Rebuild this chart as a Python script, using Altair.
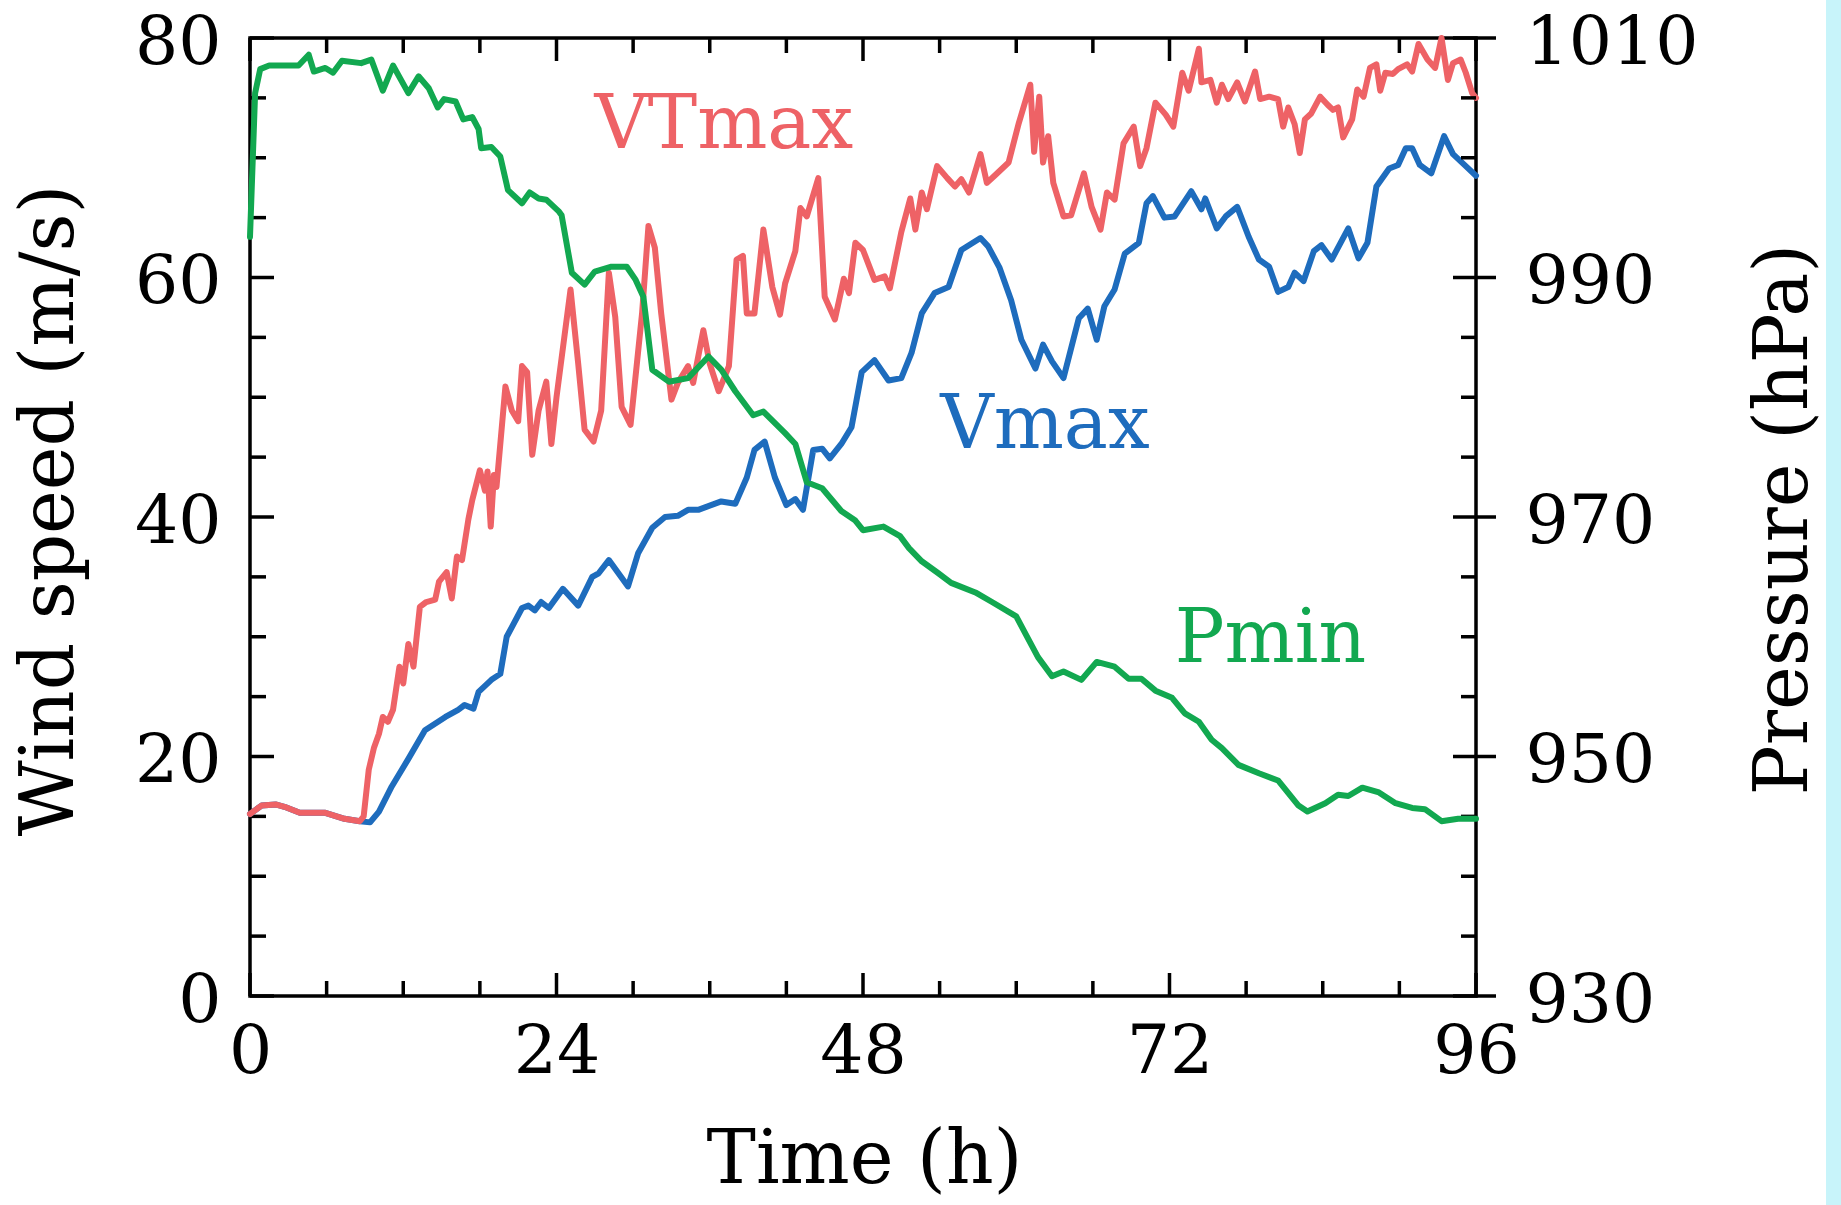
import altair as alt
import pandas as pd

# ---------------- data ----------------
time_ticks = [0, 24, 48, 72, 96]
time_minor = [6, 12, 18, 30, 36, 42, 54, 60, 66, 78, 84, 90]
wind_ticks = [0, 20, 40, 60, 80]
wind_minor = [5, 10, 15, 25, 30, 35, 45, 50, 55, 65, 70, 75]
pres_ticks = [930, 950, 970, 990, 1010]
pres_minor = [935, 940, 945, 955, 960, 965, 975, 980, 985, 995, 1000, 1005]

vmax_t = [0, 0.9, 2.0, 2.7, 3.9, 5.9, 7.4, 8.6, 9.4, 10.1,
          11.1, 12.4, 13.7, 15.3, 16.3, 16.8, 17.5, 17.9, 18.9, 19.6,
          20.1, 21.3, 21.8, 22.3, 22.8, 23.4, 24.5, 25.7, 26.8, 27.3,
          28.1, 29.6, 30.4, 31.5, 32.5, 33.5, 34.3, 35.1, 36.9, 38.0,
          38.9, 39.5, 40.3, 41.1, 42.0, 42.7, 43.3, 44.1, 44.8, 45.4,
          46.3, 47.1, 47.9, 48.9, 50.0, 51.0, 51.8, 52.6, 53.6, 54.7,
          55.7, 57.2, 57.8, 58.7, 59.6, 60.4, 61.5, 62.1, 62.8, 63.7,
          64.9, 65.6, 66.3, 66.9, 67.7, 68.5, 69.6, 70.2, 70.7, 71.6,
          72.4, 73.7, 74.5, 74.8, 75.7, 76.4, 77.3, 78.2, 79.0, 79.8,
          80.5, 81.3, 81.8, 82.5, 83.3, 83.9, 84.7, 86.0, 86.8, 87.5,
          88.2, 89.2, 89.9, 90.5, 91.0, 91.6, 92.5, 93.5, 94.2, 95.2, 96.0]
vmax_v = [15.2, 15.9, 16.0, 15.8, 15.3, 15.3, 14.8, 14.6, 14.5, 15.4,
          17.5, 19.8, 22.2, 23.3, 23.9, 24.3, 24.0, 25.4, 26.4, 26.9,
          30.0, 32.4, 32.6, 32.2, 32.9, 32.4, 34.0, 32.6, 35.0, 35.3,
          36.4, 34.2, 37.0, 39.1, 40.0, 40.1, 40.6, 40.6, 41.3, 41.1,
          43.3, 45.6, 46.3, 43.3, 41.0, 41.5, 40.6, 45.6, 45.7, 44.9,
          46.1, 47.5, 52.1, 53.1, 51.4, 51.6, 53.7, 57.0, 58.7, 59.2,
          62.3, 63.3, 62.6, 60.8, 58.1, 54.8, 52.4, 54.4, 53.0, 51.6,
          56.6, 57.4, 54.8, 57.6, 59.0, 62.0, 62.9, 66.2, 66.8, 65.0,
          65.1, 67.2, 65.7, 66.6, 64.1, 65.1, 65.9, 63.4, 61.5, 60.9,
          58.8, 59.2, 60.4, 59.7, 62.2, 62.7, 61.5, 64.1, 61.6, 62.9,
          67.6, 69.1, 69.4, 70.8, 70.8, 69.4, 68.7, 71.8, 70.3, 69.3, 68.5]

vtmax_t = [0, 0.9, 2.0, 2.7, 3.9, 5.9, 7.4, 8.6, 8.9, 9.3,
           9.7, 10.1, 10.4, 10.8, 11.2, 11.7, 12.0, 12.4, 12.8, 13.3,
           13.8, 14.5, 14.8, 15.4, 15.8, 16.2, 16.6, 17.1, 17.4, 18.0,
           18.4, 18.6, 18.85, 19.1, 19.3, 20.0, 20.5, 21.0, 21.3, 21.7,
           22.1, 22.6, 23.2, 23.6, 24.0, 25.1, 25.7, 26.2, 26.9, 27.5,
           28.1, 28.6, 29.1, 29.8, 30.7, 31.2, 31.7, 32.2, 33.0, 33.5,
           34.3, 34.7, 35.5, 36.0, 36.7, 37.5, 38.1, 38.6, 38.9, 39.5,
           40.2, 40.9, 41.5, 41.9, 42.7, 43.1, 43.6, 44.5, 45.0, 45.8,
           46.5, 46.9, 47.4, 48.0, 48.9, 49.7, 50.1, 51.0, 51.7, 52.1,
           52.6, 53.0, 53.8, 54.6, 55.2, 55.7, 56.3, 57.2, 57.7, 58.3,
           59.4, 60.2, 61.1, 61.4, 61.8, 62.1, 62.5, 62.9, 63.7, 64.3,
           65.3, 65.9, 66.6, 67.1, 67.7, 68.4, 69.2, 69.7, 70.2, 70.9,
           71.7, 72.3, 73.0, 73.5, 74.3, 74.5, 75.2, 75.7, 76.1, 76.6,
           77.3, 77.9, 78.7, 79.1, 79.8, 80.5, 80.9, 81.3, 81.8, 82.2,
           82.6, 83.1, 83.8, 84.4, 84.8, 85.2, 85.6, 86.3, 86.7, 87.2,
           87.7, 88.2, 88.5, 88.9, 89.5, 89.9, 90.6, 91.0, 91.5, 92.2,
           92.8, 93.3, 93.8, 94.2, 94.8, 95.2, 95.7, 96.0]
vtmax_v = [15.2, 15.9, 16.0, 15.8, 15.3, 15.3, 14.8, 14.6, 15.0, 18.9,
           20.7, 21.9, 23.3, 22.9, 23.9, 27.5, 26.1, 29.4, 27.5, 32.5,
           32.9, 33.1, 34.6, 35.4, 33.2, 36.7, 36.4, 39.8, 41.4, 43.9,
           42.2, 43.8, 39.2, 43.5, 42.5, 50.9, 48.9, 48.0, 52.6, 52.1,
           45.2, 48.9, 51.3, 46.1, 50.0, 59.0, 52.8, 47.3, 46.3, 48.9,
           60.4, 56.7, 49.2, 47.7, 57.0, 64.3, 62.5, 57.0, 49.8, 51.2,
           52.6, 51.2, 55.6, 52.8, 50.5, 52.6, 61.5, 61.8, 57.0, 57.0,
           64.0, 59.2, 56.9, 59.5, 62.2, 65.8, 65.1, 68.3, 58.4, 56.5,
           59.9, 58.7, 62.9, 62.3, 59.8, 60.1, 59.1, 63.8, 66.6, 64.0,
           67.1, 65.7, 69.3, 68.3, 67.6, 68.2, 67.1, 70.3, 67.9, 68.5,
           69.6, 72.9, 76.1, 70.5, 75.1, 69.6, 71.8, 67.9, 65.1, 65.2,
           68.7, 65.9, 64.0, 67.1, 66.5, 71.2, 72.6, 69.3, 70.8, 74.6,
           73.6, 72.6, 77.1, 75.6, 79.1, 76.3, 76.5, 74.6, 76.1, 74.9,
           76.3, 74.7, 77.2, 74.9, 75.1, 74.9, 72.6, 74.2, 72.8, 70.4,
           73.2, 73.7, 75.1, 74.4, 74.0, 74.2, 71.7, 73.2, 75.7, 75.1,
           77.5, 77.8, 75.6, 77.1, 77.0, 77.4, 77.8, 77.2, 79.5, 78.2,
           77.5, 80.0, 76.5, 77.9, 78.2, 77.1, 75.4, 75.0]

pmin_t = [0, 0.4, 0.8, 1.5, 3.8, 4.6, 5.0, 5.9, 6.5, 7.2,
          8.7, 9.5, 10.4, 11.2, 12.4, 13.2, 14.0, 14.7, 15.2, 16.1,
          16.7, 17.4, 17.9, 18.1, 18.9, 19.6, 20.2, 21.3, 21.9, 22.6,
          23.2, 24.2, 24.4, 25.2, 26.2, 27.0, 28.3, 29.5, 30.2, 30.8,
          31.5, 32.8, 34.3, 35.9, 36.9, 38.0, 39.4, 40.2, 41.9, 42.7,
          43.6, 44.8, 46.3, 47.4, 48.0, 49.6, 50.9, 51.6, 52.6, 53.9,
          54.9, 56.8, 58.1, 60.0, 60.8, 61.7, 62.8, 63.7, 65.1, 66.3,
          67.7, 68.8, 69.8, 70.9, 72.2, 73.2, 74.3, 75.3, 76.1, 77.4,
          79.0, 80.5, 82.1, 82.8, 84.2, 85.2, 86.0, 87.1, 88.4, 89.7,
          91.0, 92.0, 93.3, 94.6, 96.0]
pmin_p = [993.4, 1005.4, 1007.4, 1007.7, 1007.7, 1008.6, 1007.2, 1007.5, 1007.1, 1008.1,
          1007.9, 1008.2, 1005.6, 1007.7, 1005.4, 1006.8, 1005.8, 1004.2, 1004.9, 1004.7,
          1003.2, 1003.4, 1002.4, 1000.8, 1000.9, 1000.1, 997.3, 996.2, 997.1, 996.6,
          996.5, 995.5, 995.2, 990.4, 989.4, 990.5, 990.9, 990.9, 989.8, 988.4,
          982.3, 981.3, 981.6, 983.4, 982.3, 980.5, 978.5, 978.8, 977.0, 976.1,
          972.9, 972.4, 970.5, 969.7, 968.9, 969.2, 968.4, 967.4, 966.3, 965.3,
          964.5, 963.7, 962.9, 961.7, 960.1, 958.3, 956.7, 957.1, 956.4, 957.9,
          957.5, 956.5, 956.5, 955.5, 954.9, 953.6, 952.9, 951.4, 950.7, 949.3,
          948.6, 948.0, 945.9, 945.4, 946.1, 946.8, 946.7, 947.4, 947.0, 946.1,
          945.7, 945.6, 944.6, 944.8, 944.8]

label_text = ["VTmax", "Vmax", "Pmin"]
label_t = [37.1, 62.25, 79.9]
label_v = [70.8, 45.8, 27.9]

# ---------------- styling ----------------
FONT = "DejaVu Serif"
W, H = 1226, 958
RED, BLUE, GREEN = "#EE6266", "#1E6CBD", "#12A850"
label_color = [RED, BLUE, GREEN]
LW = 6
AW = 3.5

sx = alt.Scale(domain=[0, 96], nice=False, zero=False)
sw = alt.Scale(domain=[0, 80], nice=False, zero=False)
sp = alt.Scale(domain=[930, 1010], nice=False, zero=False)

common = dict(labelFont=FONT, labelColor="black", ticks=False, tickSize=0,
              domain=False, grid=False, labelOverlap=False, labelFlush=False,
              labelLimit=500, format="d",
              titleFont=FONT, titleFontWeight="normal", titleColor="black",
              titleLimit=2000)

x_axis = alt.Axis(values=time_ticks, title="Time (h)", orient="bottom",
                  labelFontSize=68, labelPadding=22, labelBaseline="top",
                  titleFontSize=74, titleX=614, titleY=186,
                  titleAlign="center", titleBaseline="alphabetic", **common)
left_axis = alt.Axis(values=wind_ticks, title="Wind speed (m/s)", orient="left",
                     labelFontSize=68, labelPadding=29, labelAlign="right",
                     labelBaseline="middle", labelOffset=5,
                     titleFontSize=74, titleAngle=270, titleX=-178, titleY=472,
                     titleAlign="center", titleBaseline="alphabetic", **common)
right_axis = alt.Axis(values=pres_ticks, title="Pressure (hPa)", orient="right",
                      labelFontSize=68, labelPadding=49, labelAlign="left",
                      labelBaseline="middle", labelOffset=5,
                      titleFontSize=74, titleAngle=270, titleX=330, titleY=481,
                      titleAlign="center", titleBaseline="alphabetic", **common)

X = alt.X("t:Q", scale=sx, axis=x_axis)
YW = alt.Y("v:Q", scale=sw, axis=left_axis)
YP = alt.Y("p:Q", scale=sp, axis=right_axis)

vmax_df = pd.DataFrame({"t": vmax_t, "v": vmax_v})
vtmax_df = pd.DataFrame({"t": vtmax_t, "v": vtmax_v})
pmin_df = pd.DataFrame({"t": pmin_t, "p": pmin_p})
lab_df = pd.DataFrame({"t": label_t, "v": label_v, "label": label_text, "color": label_color})

rule = dict(color="black", strokeWidth=AW)

strip = alt.Chart(pd.DataFrame({"a": [0]})).mark_rect(color="#C8F4FA").encode(
    x=alt.value(1576), x2=alt.value(1591), y=alt.value(-38), y2=alt.value(1167))

lt_major = alt.Chart(pd.DataFrame({"v": wind_ticks})).mark_rule(**rule).encode(
    y=YW, x=alt.value(0), x2=alt.value(24))
lt_minor = alt.Chart(pd.DataFrame({"v": wind_minor})).mark_rule(**rule).encode(
    y=YW, x=alt.value(0), x2=alt.value(16))
bt_major = alt.Chart(pd.DataFrame({"t": time_ticks})).mark_rule(**rule).encode(
    x=X, y=alt.value(H), y2=alt.value(H - 23))
bt_minor = alt.Chart(pd.DataFrame({"t": time_minor})).mark_rule(**rule).encode(
    x=X, y=alt.value(H), y2=alt.value(H - 15))
tt_major = alt.Chart(pd.DataFrame({"t": time_ticks})).mark_rule(**rule).encode(
    x=X, y=alt.value(0), y2=alt.value(23))
tt_minor = alt.Chart(pd.DataFrame({"t": time_minor})).mark_rule(**rule).encode(
    x=X, y=alt.value(0), y2=alt.value(15))
rt_major = alt.Chart(pd.DataFrame({"p": pres_ticks})).mark_rule(**rule).encode(
    y=YP, x=alt.value(W - 23), x2=alt.value(W + 20))
rt_minor = alt.Chart(pd.DataFrame({"p": pres_minor})).mark_rule(**rule).encode(
    y=YP, x=alt.value(W - 15), x2=alt.value(W))

line_style = dict(strokeWidth=LW, strokeJoin="round", strokeCap="round")
vmax_line = alt.Chart(vmax_df).mark_line(color=BLUE, **line_style).encode(x=X, y=YW)
vtmax_line = alt.Chart(vtmax_df).mark_line(color=RED, **line_style).encode(x=X, y=YW)
pmin_line = alt.Chart(pmin_df).mark_line(color=GREEN, **line_style).encode(x=X, y=YP)

labels = alt.Chart(lab_df).mark_text(font=FONT, fontSize=74, align="center",
                                     baseline="alphabetic").encode(
    x=X, y=YW, text="label:N", color=alt.Color("color:N", scale=None))

left = alt.layer(strip, lt_major, lt_minor, bt_major, bt_minor, tt_major, tt_minor,
                 vmax_line, vtmax_line, labels)
right = alt.layer(rt_major, rt_minor, pmin_line)

chart = alt.layer(left, right).resolve_scale(y="independent").properties(
    width=W, height=H,
    padding={"left": 250, "top": 38, "right": 365, "bottom": 209},
    autosize=alt.AutoSizeParams(type="none"),
    background="white",
).configure_view(stroke="black", strokeWidth=AW)

chart.save("out.html", embed_options={"renderer": "svg", "actions": False})
